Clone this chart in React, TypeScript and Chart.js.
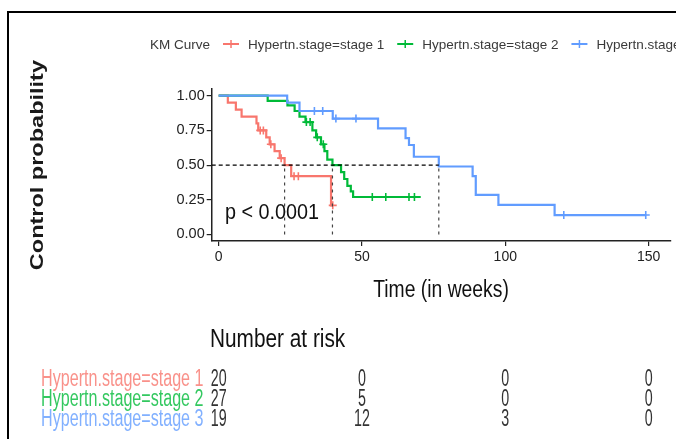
import React, { useEffect, useRef } from 'react';
import { Chart, registerables } from 'chart.js';

Chart.register(...registerables);

// ---------- data ----------
const groupNames = ['Hypertn.stage=stage 1', 'Hypertn.stage=stage 2', 'Hypertn.stage=stage 3'];
const groupColors = ['#F8766D', '#00BA38', '#619CFF'];
const tableLabelColors = ['rgba(248,118,109,0.8)', 'rgba(0,186,56,0.8)', 'rgba(97,156,255,0.8)'];

const stage1Times = [0, 3.2, 6.0, 8.0, 13.2, 13.8, 16.6, 17.8, 19.5, 21.3, 23.0, 25.3, 39.2];
const stage1Surv = [1, 0.95, 0.9, 0.85, 0.8, 0.75, 0.7, 0.65, 0.6, 0.55, 0.5, 0.42, 0.21];
const stage1Censor = [14.5, 15.6, 18.2, 21.8, 26.3, 27.8, 39.8];
const stage1End = 39.8;

const stage2Times = [0, 17.1, 24.0, 26.5, 28.2, 30.3, 32.7, 34.0, 35.7, 36.9, 37.9, 39.7, 42.7, 43.8, 44.9, 46.1, 46.9];
const stage2Surv = [1, 0.963, 0.93, 0.89, 0.85, 0.81, 0.75, 0.7, 0.65, 0.6, 0.54, 0.5, 0.45, 0.4, 0.35, 0.31, 0.27];
const stage2Censor = [30.6, 31.9, 34.4, 36.5, 53.6, 58.3, 66.4, 68.3];
const stage2End = 70.5;

const stage3Times = [0, 23.9, 28.2, 39.8, 55.6, 65.2, 66.4, 68.1, 76.8, 88.6, 89.7, 97.6, 117.2];
const stage3Surv = [1, 0.95, 0.89, 0.835, 0.765, 0.695, 0.645, 0.56, 0.49, 0.42, 0.285, 0.213, 0.14];
const stage3Censor = [33.4, 36.3, 40.9, 47.9, 120.4, 149.0];
const stage3End = 149.0;

const medians = [23.0, 39.7, 76.8];
const medianLevel = 0.5;

const riskTimes = [0, 50, 100, 150];
const riskStage1 = [20, 0, 0, 0];
const riskStage2 = [27, 5, 0, 0];
const riskStage3 = [19, 12, 3, 0];

const xTicks = [0, 50, 100, 150];
const yTicks = [0, 0.25, 0.5, 0.75, 1];
const xMin = -2.43;
const xMax = 157.6;
const yMin = -0.047;
const yMax = 1.047;

const pValueText = 'p < 0.0001';
const pValueX = 2.2;
const pValueY = 0.11;

const legendTitle = 'KM Curve';
const xTitle = 'Time (in weeks)';
const yTitle = 'Control probability';
const tableTitle = 'Number at risk';

// ---------- helpers ----------
const FONT = '"Liberation Sans", Arial, sans-serif';

function stepPoints(times: number[], surv: number[], end: number) {
  const pts = times.map((t, i) => ({ x: t, y: surv[i] }));
  pts.push({ x: end, y: surv[surv.length - 1] });
  return pts;
}
function survAt(times: number[], surv: number[], t: number) {
  let v = surv[0];
  for (let i = 0; i < times.length; i++) if (times[i] <= t) v = surv[i];
  return v;
}
function censorPoints(times: number[], surv: number[], cens: number[]) {
  return cens.map((t) => ({ x: t, y: survAt(times, surv, t) }));
}

function drawText(
  ctx: CanvasRenderingContext2D,
  text: string,
  x: number,
  y: number,
  size: number,
  color: string,
  sx: number,
  align: CanvasTextAlign = 'left',
) {
  ctx.save();
  ctx.translate(x, y);
  ctx.scale(sx, 1);
  ctx.font = `${size}px ${FONT}`;
  ctx.fillStyle = color;
  ctx.textAlign = align;
  ctx.textBaseline = 'alphabetic';
  ctx.fillText(text, 0, 0);
  ctx.restore();
}

const decorPlugin = {
  id: 'decor',
  beforeDraw(chart: any) {
    const ctx: CanvasRenderingContext2D = chart.ctx;
    ctx.save();
    ctx.strokeStyle = '#000';
    ctx.lineWidth = 2;
    ctx.beginPath();
    ctx.moveTo(8, chart.height);
    ctx.lineTo(8, 12);
    ctx.lineTo(chart.width, 12);
    ctx.stroke();
    ctx.restore();
  },
  afterDraw(chart: any) {
    const ctx: CanvasRenderingContext2D = chart.ctx;
    const area = chart.chartArea;
    const xs = chart.scales.x;
    const ys = chart.scales.y;

    // legend
    ctx.save();
    ctx.font = `13.5px ${FONT}`;
    let lx = 150;
    const ly = 44;
    drawText(ctx, legendTitle, lx, ly + 5, 13.5, '#3a3a3a', 1);
    lx += ctx.measureText(legendTitle).width;
    groupNames.forEach((name, i) => {
      const cx = lx + 21;
      ctx.strokeStyle = groupColors[i];
      ctx.lineWidth = 2;
      ctx.beginPath();
      ctx.moveTo(cx - 8, ly);
      ctx.lineTo(cx + 8, ly);
      ctx.stroke();
      ctx.lineWidth = 1.5;
      ctx.beginPath();
      ctx.moveTo(cx, ly - 4);
      ctx.lineTo(cx, ly + 4);
      ctx.stroke();
      const tx = cx + 17;
      drawText(ctx, name, tx, ly + 5, 13.5, '#3a3a3a', 1);
      ctx.font = `13.5px ${FONT}`;
      lx = tx + ctx.measureText(name).width;
    });
    ctx.restore();

    // p value
    drawText(ctx, pValueText, xs.getPixelForValue(pValueX), ys.getPixelForValue(pValueY), 22, '#111', 0.9);

    // x title
    drawText(ctx, xTitle, (area.left + area.right) / 2, 297, 23, '#111', 0.84, 'center');

    // y title (rotated)
    ctx.save();
    ctx.translate(42.5, (area.top + area.bottom) / 2);
    ctx.rotate(-Math.PI / 2);
    ctx.scale(1, 0.8);
    ctx.font = `bold 23.5px ${FONT}`;
    ctx.fillStyle = '#1a1a1a';
    ctx.textAlign = 'center';
    ctx.textBaseline = 'alphabetic';
    ctx.fillText(yTitle, 0, 0);
    ctx.restore();

    // risk table
    drawText(ctx, tableTitle, 210, 347, 26, '#111', 0.8);
    const rows = [riskStage1, riskStage2, riskStage3];
    const baselines = [386, 406, 426];
    rows.forEach((row, r) => {
      drawText(ctx, groupNames[r], 203.5, baselines[r], 23, tableLabelColors[r], 0.7, 'right');
      row.forEach((n, j) => {
        drawText(ctx, String(n), xs.getPixelForValue(riskTimes[j]), baselines[r], 23, '#333', 0.62, 'center');
      });
    });
  },
};

export default function App() {
  const ref = useRef<HTMLCanvasElement>(null);

  useEffect(() => {
    const curves = [
      { t: stage3Times, s: stage3Surv, c: stage3Censor, e: stage3End, col: groupColors[2] },
      { t: stage2Times, s: stage2Surv, c: stage2Censor, e: stage2End, col: groupColors[1] },
      { t: stage1Times, s: stage1Surv, c: stage1Censor, e: stage1End, col: groupColors[0] },
    ];

    const datasets: any[] = [];
    datasets.push({
      data: [
        { x: xMin, y: medianLevel },
        { x: Math.max(...medians), y: medianLevel },
      ],
      borderColor: '#000',
      borderWidth: 1.2,
      borderDash: [4, 3],
      pointRadius: 0,
      fill: false,
    });
    medians.forEach((m) => {
      datasets.push({
        data: [
          { x: m, y: 0 },
          { x: m, y: medianLevel },
        ],
        borderColor: '#444',
        borderWidth: 1.2,
        borderDash: [3, 4],
        pointRadius: 0,
        fill: false,
      });
    });
    curves.forEach((g) => {
      datasets.push({
        data: censorPoints(g.t, g.s, g.c),
        showLine: false,
        pointStyle: 'cross',
        pointRadius: 4,
        pointBorderWidth: 1.6,
        pointBorderColor: g.col,
        pointBackgroundColor: g.col,
        borderColor: g.col,
      });
    });
    curves.forEach((g) => {
      datasets.push({
        data: stepPoints(g.t, g.s, g.e),
        stepped: true,
        borderColor: g.col,
        borderWidth: 2.2,
        pointRadius: 0,
        fill: false,
        tension: 0,
      });
    });

    const chart = new Chart(ref.current as HTMLCanvasElement, {
      type: 'line',
      data: { datasets },
      options: {
        responsive: false,
        animation: false,
        devicePixelRatio: 1,
        events: [],
        layout: { padding: { top: 89.2, right: 3, bottom: 0, left: 0 } },
        plugins: { legend: { display: false }, tooltip: { enabled: false }, title: { display: false } },
        scales: {
          x: {
            type: 'linear',
            min: xMin,
            max: xMax,
            afterBuildTicks: (s: any) => {
              s.ticks = xTicks.map((v) => ({ value: v }));
            },
            afterFit: (s: any) => {
              s.height = 198;
            },
            ticks: {
              autoSkip: false,
              padding: 3,
              color: '#222',
              font: { family: 'Liberation Sans', size: 14 },
              callback: (v: any) => String(v),
            },
            grid: { display: true, drawOnChartArea: false, drawTicks: true, tickLength: 5, color: '#222', lineWidth: 1.2 },
            border: { display: true, color: '#222', width: 1.5 },
          },
          y: {
            type: 'linear',
            min: yMin,
            max: yMax,
            afterBuildTicks: (s: any) => {
              s.ticks = yTicks.map((v) => ({ value: v }));
            },
            afterFit: (s: any) => {
              s.width = 211.7;
            },
            ticks: {
              autoSkip: false,
              padding: 2,
              color: '#222',
              font: { family: 'Liberation Sans', size: 14.5 },
              callback: (v: any) => Number(v).toFixed(2),
            },
            grid: { display: true, drawOnChartArea: false, drawTicks: true, tickLength: 5, color: '#222', lineWidth: 1.2 },
            border: { display: true, color: '#222', width: 1.5 },
          },
        },
      },
      plugins: [decorPlugin],
    } as any);

    return () => chart.destroy();
  }, []);

  return (
    <canvas
      ref={ref}
      width={676}
      height={439}
      style={{ position: 'fixed', left: 0, top: 0, width: '676px', height: '439px' }}
    />
  );
}
